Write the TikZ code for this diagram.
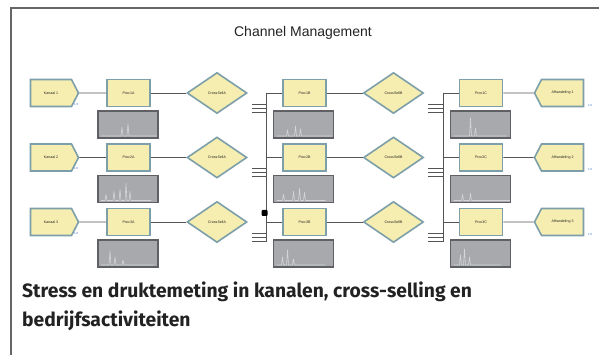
\documentclass[tikz,border=0pt]{standalone}
\usepackage{fontspec}
\setmainfont{Liberation Sans}
\newfontfamily\capfont{Fira Sans}
\usetikzlibrary{shapes.geometric,shapes.symbols}
\definecolor{nodefill}{HTML}{F6EDB0}
\definecolor{nodeedge}{HTML}{7C9FA9}
\definecolor{chartfill}{HTML}{A8A9AC}
\definecolor{chartedge}{HTML}{5E6064}
\definecolor{spikec}{HTML}{D4D5D8}
\definecolor{wire}{HTML}{555555}
\definecolor{framec}{HTML}{666666}
\definecolor{inkc}{HTML}{222222}
\definecolor{tagc}{HTML}{3A6FD0}
\begin{document}
\begin{tikzpicture}[x=1pt,y=-1pt,
  every node/.style={text=inkc},
  tiny/.style={font=\fontsize{3.6}{4}\selectfont},
  procbox/.style={tiny,draw=nodeedge, line width=1.6pt, fill=nodefill,
    minimum width=43pt, minimum height=27pt, inner sep=0pt},
  srcbox/.style={procbox, shape=signal, signal to=east, signal pointer angle=125,
    minimum width=48pt},
  sinkbox/.style={procbox, shape=signal, signal to=west, signal pointer angle=125,
    minimum width=49pt},
  decbox/.style={tiny,draw=nodeedge, line width=1.6pt, fill=nodefill, shape=diamond,
    minimum width=60pt, minimum height=41pt, inner sep=0pt},
  chartbox/.style={draw=chartedge, line width=1.1pt, fill=chartfill,
    minimum width=60pt, minimum height=27pt, inner sep=0pt,
    path picture={\draw[spikec, line width=0.6pt, line join=round]
      ([shift={(3,-2)}]path picture bounding box.south west) #1;}},
  wireline/.style={draw=wire, line width=0.9pt},
  tag/.style={font=\fontsize{3}{3}\selectfont, text=tagc, inner sep=0pt},
  captext/.style={anchor=base west, inner sep=0pt, text=inkc,
    font=\capfont\bfseries\fontsize{19.3}{19.3}\selectfont}
]
\useasboundingbox (0,0) rectangle (599,355);
% frame
\coordinate (fTL) at (11,8);
\coordinate (fTR) at (599,8);
\coordinate (fBL) at (11,355);
\draw[framec, line width=1.2pt] (fTR) -- (fTL) -- (fBL);
% title
\node (title) at (303,33) {\fontsize{14}{14}\selectfont Channel Management};

% buses
\coordinate (busBtop) at (266,93);
\coordinate (busBbot) at (266,242);
\coordinate (busCtop) at (443,93);
\coordinate (busCbot) at (443,242);
\draw[wireline] (busBtop) -- (busBbot);
\draw[wireline] (busCtop) -- (busCbot);

\foreach \r/\y/\pa/\pb/\pc in {%
  1/93/{-- ++(20,0) -- ++(1,-9) -- ++(1,9) -- ++(4,0) -- ++(1,-12) -- ++(1,12) -- ++(30,0)}/{-- ++(10,0) -- ++(1,-6) -- ++(1,6) -- ++(6,0) -- ++(1,-10) -- ++(1,10) -- ++(3,0) -- ++(1,-7) -- ++(1,7) -- ++(30,0)}/{-- ++(16,0) -- ++(1,-18) -- ++(1,18) -- ++(3,0) -- ++(1,-8) -- ++(1,8) -- ++(30,0)},
  2/157.5/{-- ++(4,0) -- ++(1,-6) -- ++(1,6) -- ++(6,0) -- ++(1,-9) -- ++(1,9) -- ++(4,0) -- ++(1,-11) -- ++(1,11) -- ++(4,0) -- ++(1,-17) -- ++(1,17) -- ++(2,0) -- ++(1,-9) -- ++(1,9) -- ++(20,0)}/{-- ++(6,0) -- ++(1,-6) -- ++(1,6) -- ++(8,0) -- ++(1,-9) -- ++(1,9) -- ++(4,0) -- ++(1,-12) -- ++(1,12) -- ++(3,0) -- ++(1,-8) -- ++(1,8) -- ++(20,0)}/{-- ++(8,0) -- ++(1,-6) -- ++(1,6) -- ++(6,0) -- ++(1,-7) -- ++(1,7) -- ++(40,0)},
  3/222/{-- ++(8,0) -- ++(1,-14) -- ++(1,14) -- ++(3,0) -- ++(1,-8) -- ++(1,8) -- ++(6,0) -- ++(1,-5) -- ++(1,5) -- ++(30,0)}/{-- ++(5,0) -- ++(1,-8) -- ++(1,8) -- ++(3,0) -- ++(1,-15) -- ++(1,15) -- ++(4,0) -- ++(1,-6) -- ++(1,6) -- ++(30,0)}/{-- ++(6,0) -- ++(1,-10) -- ++(1,10) -- ++(2,0) -- ++(1,-16) -- ++(1,16) -- ++(3,0) -- ++(1,-8) -- ++(1,8) -- ++(30,0)}} {
  \node[srcbox]  (k\r)  at (51,\y)    {Kanaal \r};
  \node[procbox] (pa\r) at (128.5,\y) {Proc\r A};
  \node[decbox]  (da\r) at (217,\y)   {CrossSellA};
  \node[procbox] (pb\r) at (304.5,\y) {Proc\r B};
  \node[decbox]  (db\r) at (393.5,\y) {CrossSellB};
  \node[procbox] (pc\r) at (481,\y)   {Proc\r C};
  \node[sinkbox] (af\r) at (562.5,\y) {Afhandeling \r};
  \node[chartbox={\pa}] (ca\r) at (128,\y+31.5)   {};
  \node[chartbox={\pb}] (cb\r) at (303.5,\y+31.5) {};
  \node[chartbox={\pc}] (cc\r) at (480.5,\y+31.5) {};
  \draw[wireline] (k\r) -- (pa\r);
  \draw[wireline] (pa\r) -- (da\r);
  \draw[wireline] (pb\r) -- (db\r);
  \draw[wireline] (pc\r) -- (af\r);
  \draw[wireline] (pb\r.west) -- (pb\r.west -| busBtop);
  \draw[wireline] (pc\r.west) -- (pc\r.west -| busCtop);
  \foreach \d in {11,15,19} {
    \coordinate (tb\r-\d) at (252,\y+\d);
    \coordinate (tc\r-\d) at (428,\y+\d);
    \draw[wireline, line width=0.8pt] (tb\r-\d) -- (tb\r-\d -| busBtop);
    \draw[wireline, line width=0.8pt] (tc\r-\d) -- (tc\r-\d -| busCtop);
  }
  \node[tag, anchor=west] (kt\r) at (74,\y+11) {1\,0};
  \node[tag, anchor=west] (at\r) at (588,\y+12) {1\,0};
}
\node[fill=black, minimum size=6pt, inner sep=0pt, rounded corners=1pt] (blk) at (264.5,213) {};

% caption
\node[captext] (cap1) at (22,297) {Stress en druktemeting in kanalen, cross-selling en};
\node[captext] (cap2) at (22,326) {bedrijfsactiviteiten};
\end{tikzpicture}
\end{document}
